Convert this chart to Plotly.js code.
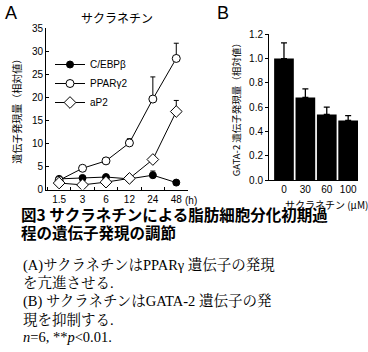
<!DOCTYPE html>
<html><head><meta charset="utf-8">
<script src="https://cdn.plot.ly/plotly-3.0.1.min.js"></script>
<style>html,body{margin:0;padding:0;background:#fff;}#chart{width:368px;height:352px;}</style>
</head><body><div id="chart"></div>
<script>
// Panel A: time course (h)
var times = ["1.5", "3", "6", "12", "24", "48"];
var timeLabels = ["1.5", "3", "6", "12", "24", "48"];
var cebpb = [2.3, 2.5, 2.7, 2.3, 3.1, 1.5];
var cebpbErr = [0, 0, 0, 0, 0.9, 0];
var pparg2 = [2.0, 4.6, 6.2, 10.1, 19.6, 28.4];
var pparg2Err = [0, 0, 0, 0.9, 4.8, 3.3];
var ap2 = [1.4, 1.0, 1.6, 2.4, 6.5, 16.9];
var ap2Err = [0, 0, 0, 0, 0, 2.4];
var seriesNames = ["C/EBPβ", "PPARγ2", "aP2"];
var yTicksA = [0, 5, 10, 15, 20, 25, 30, 35];

// Panel B: dose (μM)
var doses = ["0", "30", "60", "100"];
var gata2 = [1.0, 0.68, 0.54, 0.49];
var gata2Err = [0.13, 0.07, 0.06, 0.04];
var signif = ["", "**", "**", "**"];
var yTicksB = [0, 0.2, 0.4, 0.6, 0.8, 1.0, 1.2];

var W = 368, H = 352;
function px(x){return x/W;}
function py(y){return 1 - y/H;}
var sans = "Liberation Sans, Arial, Noto Sans CJK JP, sans-serif";
var cjk = "Noto Sans CJK JP, Liberation Sans, sans-serif";
var serif = "Liberation Serif, Noto Serif CJK JP, Noto Sans CJK JP, serif";

function zeros(a){return a.map(function(){return 0;});}
function errObj(arr){return {type:"data", symmetric:false, array:arr, arrayminus:zeros(arr), color:"#000", thickness:1, width:2.5};}

var traces = [
  {x: times, y: cebpb, name: seriesNames[0], type:"scatter", mode:"lines+markers", xaxis:"x", yaxis:"y",
   line:{color:"#000", width:1}, marker:{symbol:"circle", size:7, color:"#000", line:{color:"#000", width:1}},
   error_y: errObj(cebpbErr)},
  {x: times, y: pparg2, name: seriesNames[1], type:"scatter", mode:"lines+markers", xaxis:"x", yaxis:"y",
   line:{color:"#000", width:1}, marker:{symbol:"circle", size:8, color:"#fff", line:{color:"#000", width:1}},
   error_y: errObj(pparg2Err)},
  {x: times, y: ap2, name: seriesNames[2], type:"scatter", mode:"lines+markers", xaxis:"x", yaxis:"y",
   line:{color:"#000", width:1}, marker:{symbol:"diamond", size:9, color:"#fff", line:{color:"#000", width:1}},
   error_y: errObj(ap2Err)},
  {x: doses, y: gata2, type:"bar", xaxis:"x2", yaxis:"y2", showlegend:false, width:0.92,
   marker:{color:"#000", line:{width:0}},
   error_y: {type:"data", symmetric:false, array:gata2Err, arrayminus:zeros(gata2Err), color:"#000", thickness:1.3, width:3}}
];

var annotations = [
  {text:"A", x:px(3), y:py(13), xref:"paper", yref:"paper", xanchor:"left", yanchor:"middle", showarrow:false, font:{family:sans, size:18, color:"#000"}},
  {text:"B", x:px(215), y:py(13), xref:"paper", yref:"paper", xanchor:"left", yanchor:"middle", showarrow:false, font:{family:sans, size:18, color:"#000"}},
  {text:"サクラネチン", x:px(117), y:py(17), xref:"paper", yref:"paper", xanchor:"center", yanchor:"middle", showarrow:false, font:{family:cjk, size:12, color:"#000"}},
  {text:"(h)", x:px(183), y:py(200), xref:"paper", yref:"paper", xanchor:"left", yanchor:"middle", showarrow:false, font:{family:sans, size:10, color:"#000"}},
  {text:"サクラネチン (μM)", x:px(326), y:py(204), xref:"paper", yref:"paper", xanchor:"center", yanchor:"middle", showarrow:false, font:{family:cjk, size:10, color:"#000"}},
  {text:"<b>図3 サクラネチンによる脂肪細胞分化初期過</b>", x:px(19), y:py(214), xref:"paper", yref:"paper", xanchor:"left", yanchor:"middle", showarrow:false, font:{family:cjk, size:15.5, color:"#000"}},
  {text:"<b>程の遺伝子発現の調節</b>", x:px(19), y:py(232), xref:"paper", yref:"paper", xanchor:"left", yanchor:"middle", showarrow:false, font:{family:cjk, size:15.5, color:"#000"}}
];
var bodyLines = ["(A)サクラネチンはPPARγ 遺伝子の発現", "を亢進させる.", "(B) サクラネチンはGATA-2 遺伝子の発", "現を抑制する.", "<i>n</i>=6, **<i>p</i><0.01."];
var bodyY = [265, 283, 301, 319, 337];
bodyLines.forEach(function(t, i){
  annotations.push({text:t, x:px(21), y:py(bodyY[i]), xref:"paper", yref:"paper", xanchor:"left", yanchor:"middle", showarrow:false, font:{family:serif, size:14.5, color:"#000"}});
});
doses.forEach(function(d, i){
  if (signif[i]) annotations.push({text:signif[i], x:d, y:gata2[i] + gata2Err[i], xref:"x2", yref:"y2", xanchor:"center", yanchor:"bottom", yshift:1, showarrow:false, font:{family:sans, size:10, color:"#000"}});
});

var layout = {
  width: W, height: H, margin:{l:0, r:0, t:0, b:0},
  paper_bgcolor:"#fff", plot_bgcolor:"rgba(0,0,0,0)",
  showlegend:true,
  legend:{x:px(50), y:py(50), xanchor:"left", yanchor:"top", bgcolor:"rgba(0,0,0,0)", font:{family:sans, size:10, color:"#000"}, itemwidth:30, tracegroupgap:0},
  xaxis:{domain:[px(46), px(188)], type:"category", range:[-0.56, 5.5], tickvals:times, ticktext:timeLabels,
         showline:true, linecolor:"#000", linewidth:1, ticks:"inside", tickson:"boundaries", ticklen:3, tickcolor:"#000",
         showgrid:false, zeroline:false, tickfont:{family:sans, size:10, color:"#000"}, anchor:"y"},
  yaxis:{domain:[py(189.5), py(28)], range:[0, 35], tickvals:yTicksA, showline:true, linecolor:"#000", linewidth:1,
         ticks:"inside", ticklen:3, tickcolor:"#000", showgrid:false, zeroline:false, anchor:"x",
         tickfont:{family:sans, size:10, color:"#000"},
         title:{text:"遺伝子発現量（相対値）", font:{family:cjk, size:10, color:"#000"}, standoff:8}},
  xaxis2:{domain:[px(269), px(358)], type:"category", range:[-0.7, 3.46], showline:true, linecolor:"#000", linewidth:1,
          ticks:"", showgrid:false, zeroline:false, tickfont:{family:sans, size:10, color:"#000"}, anchor:"y2"},
  yaxis2:{domain:[py(180), py(34.3)], range:[0, 1.2], tickvals:yTicksB, tickformat:".1f", showline:true, linecolor:"#000", linewidth:1,
          ticks:"outside", ticklen:3, tickcolor:"#000", showgrid:false, zeroline:false, anchor:"x2",
          tickfont:{family:sans, size:10, color:"#000"},
          title:{text:"GATA-2 遺伝子発現量（相対値）", font:{family:cjk, size:9.5, color:"#000"}, standoff:6}},
  bargap:0.08,
  annotations: annotations
};

Plotly.newPlot("chart", traces, layout, {staticPlot:true, displayModeBar:false});
</script>
</body></html>
